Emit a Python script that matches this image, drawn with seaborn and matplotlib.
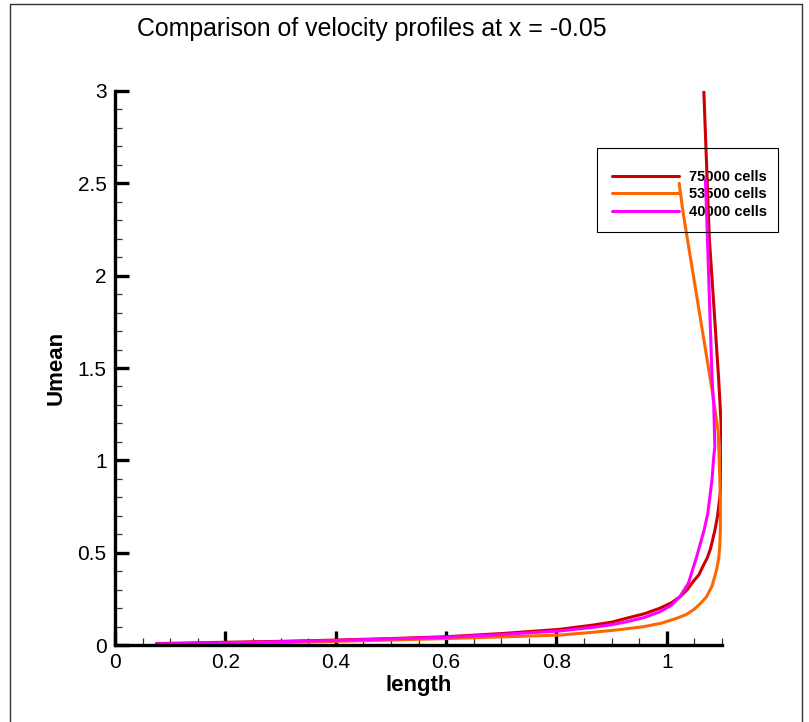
import matplotlib
matplotlib.use("Agg")
import matplotlib.pyplot as plt
from matplotlib.lines import Line2D
from matplotlib.patches import Rectangle
from matplotlib.ticker import MultipleLocator
import seaborn as sns
import pandas as pd

# ---- data ----
series_names = ["75000 cells", "53500 cells", "40000 cells"]
series_colors = ["#CC0000", "#FF6600", "#FF00FF"]

red_len = [0.075, 0.2, 0.3, 0.4, 0.5, 0.6, 0.7, 0.806, 0.866, 0.9, 0.927, 0.96, 0.987, 1.008,
           1.024, 1.037, 1.048, 1.058, 1.066, 1.073, 1.079, 1.087, 1.092, 1.096, 1.099, 1.100,
           1.099, 1.094, 1.086, 1.077, 1.067]
red_u = [0.008, 0.015, 0.02, 0.027, 0.035, 0.045, 0.062, 0.085, 0.108, 0.124, 0.145, 0.17,
         0.199, 0.228, 0.262, 0.3, 0.345, 0.38, 0.43, 0.47, 0.52, 0.62, 0.7, 0.8, 0.9, 1.05,
         1.16, 1.435, 1.8, 2.2, 3.0]

org_len = [0.13, 0.2, 0.3, 0.4, 0.5, 0.6, 0.7, 0.806, 0.866, 0.91, 0.957, 0.99, 1.018, 1.035,
           1.048, 1.06, 1.072, 1.082, 1.090, 1.094, 1.096, 1.097, 1.097, 1.095, 1.093, 1.086,
           1.079, 1.0296, 1.0223]
org_u = [0.004, 0.008, 0.013, 0.02, 0.027, 0.035, 0.044, 0.054, 0.069, 0.082, 0.099, 0.118,
         0.145, 0.165, 0.19, 0.222, 0.262, 0.32, 0.406, 0.47, 0.54, 0.623, 0.8, 1.0, 1.16,
         1.3, 1.435, 2.338, 2.5]

mag_len = [0.075, 0.2, 0.3, 0.4, 0.5, 0.6, 0.7, 0.806, 0.866, 0.9, 0.927, 0.96, 0.987, 1.008,
           1.0236, 1.039, 1.054, 1.0676, 1.074, 1.078, 1.082, 1.085, 1.087, 1.085, 1.082, 1.070]
mag_u = [0.006, 0.012, 0.018, 0.025, 0.033, 0.042, 0.057, 0.076, 0.096, 0.11, 0.126, 0.15,
         0.18, 0.215, 0.262, 0.334, 0.478, 0.623, 0.71, 0.803, 0.9, 1.02, 1.074, 1.3, 1.435,
         2.52]

title_text = "Comparison of velocity profiles at x = -0.05"
x_label = "length"
y_label = "Umean"

frames = []
for name, xs, ys in zip(series_names, [red_len, org_len, mag_len], [red_u, org_u, mag_u]):
    frames.append(pd.DataFrame({"length": xs, "Umean": ys, "series": name}))
df = pd.concat(frames, ignore_index=True)

sns.set_style("white")
plt.rcParams["font.family"] = ["Liberation Sans", "DejaVu Sans"]
plt.rcParams["text.color"] = "black"
plt.rcParams["axes.labelcolor"] = "black"
plt.rcParams["xtick.color"] = "black"
plt.rcParams["ytick.color"] = "black"

fig = plt.figure(figsize=(8.09, 7.22), dpi=100)
ax = fig.add_axes([0.1422, 0.1066, 0.7503, 0.7674])

sns.lineplot(data=df, x="length", y="Umean", hue="series", units="series",
             palette=dict(zip(series_names, series_colors)), hue_order=series_names,
             sort=False, estimator=None, linewidth=2.2, legend=False, ax=ax)

ax.set_xlim(0, 1.1)
ax.set_ylim(0, 3)
ax.set_xticks([0, 0.2, 0.4, 0.6, 0.8, 1.0])
ax.set_xticklabels(["0", "0.2", "0.4", "0.6", "0.8", "1"])
ax.set_yticks([0, 0.5, 1, 1.5, 2, 2.5, 3])
ax.set_yticklabels(["0", "0.5", "1", "1.5", "2", "2.5", "3"])
ax.xaxis.set_minor_locator(MultipleLocator(0.05))
ax.yaxis.set_minor_locator(MultipleLocator(0.1))

for s in ["top", "right"]:
    ax.spines[s].set_visible(False)
for s in ["left", "bottom"]:
    ax.spines[s].set_linewidth(2.4)
    ax.spines[s].set_color("black")

ax.tick_params(which="both", bottom=True, left=True, top=False, right=False)
ax.tick_params(which="major", direction="in", length=10, width=2.4, color="black",
               labelsize=15, labelcolor="black", pad=6)
ax.tick_params(which="minor", direction="in", length=5, width=0.9, color="#333333")

ax.set_xlabel(x_label, fontsize=16, fontweight="bold", labelpad=2, color="black")
ax.set_ylabel(y_label, fontsize=16, fontweight="bold", labelpad=8, color="black")

fig.text(0.46, 0.96, title_text, ha="center", va="center", fontsize=17.9, color="black")

handles = [Line2D([0], [0], color=c, lw=2.2) for c in series_colors]
leg = ax.legend(handles, series_names, frameon=False, loc="upper left",
                bbox_to_anchor=(0.7565, 0.765), bbox_transform=fig.transFigure,
                prop={"weight": "bold", "size": 10.5}, handlelength=4.6,
                handletextpad=0.7, labelspacing=0.25, borderpad=0, borderaxespad=0)
for t in leg.get_texts():
    t.set_color("black")
leg.set_zorder(1)

fig.add_artist(Rectangle((0.7379, 0.6787), 0.2238, 0.1163, transform=fig.transFigure,
                         fill=False, edgecolor="black", linewidth=0.8))

# outer frame
fig.add_artist(Line2D([9.5 / 809, 9.5 / 809], [0, 1 - 4 / 722], transform=fig.transFigure,
                      color="#333333", lw=1))
fig.add_artist(Line2D([9.5 / 809, 802 / 809], [1 - 4 / 722, 1 - 4 / 722],
                      transform=fig.transFigure, color="#333333", lw=1))
fig.add_artist(Line2D([802 / 809, 802 / 809], [0, 1 - 4 / 722], transform=fig.transFigure,
                      color="#333333", lw=1))

fig.savefig("out.png", dpi=100, facecolor="white")
